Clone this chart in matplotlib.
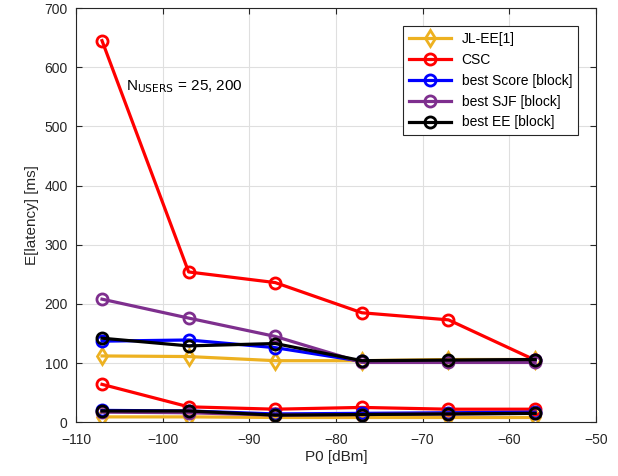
import numpy as np
import matplotlib.pyplot as plt

plt.rcParams['font.family'] = ['Liberation Sans', 'DejaVu Sans']

# transmit power sweep
p0 = [-107, -97, -87, -77, -67, -57]

# mean latency [ms], N_USERS = 200
jl_ee_200 = [112, 111, 104, 104, 106, 106]
csc_200 = [645, 254, 236, 185, 173, 105]
score_200 = [137, 139, 126, 103, 104, 105]
sjf_200 = [208, 176, 145, 101, 101, 101]
ee_200 = [142, 129, 133, 104, 105, 106]

# mean latency [ms], N_USERS = 25
jl_ee_25 = [9, 9, 8, 8, 8, 8]
csc_25 = [64, 26, 22, 25, 22, 22]
score_25 = [20, 19, 14, 15, 16, 17]
sjf_25 = [17, 16, 12, 13, 14, 15]
ee_25 = [19, 19, 12, 13, 14, 15]

names = ['JL-EE[1]', 'CSC', 'best Score [block]', 'best SJF [block]', 'best EE [block]']
colors = ['#EDB120', '#FF0000', '#0000FF', '#7E2F8E', '#000000']
markers = ['d', 'o', 'o', 'o', 'o']
series_200 = [jl_ee_200, csc_200, score_200, sjf_200, ee_200]
series_25 = [jl_ee_25, csc_25, score_25, sjf_25, ee_25]

fig = plt.figure(figsize=(6.18, 4.76), dpi=100)
ax = fig.add_axes([0.123, 0.113, 0.841, 0.870])

for name, c, m, y200, y25 in zip(names, colors, markers, series_200, series_25):
    kw = dict(color=c, marker=m, markersize=8, markerfacecolor='none',
              markeredgewidth=2, linewidth=2.3)
    ax.plot(p0, y200, label=name, **kw)
    ax.plot(p0, y25, **kw)

ax.set_xlim(-110, -50)
ax.set_ylim(0, 700)
ax.set_xticks(np.arange(-110, -49, 10))
ax.set_yticks(np.arange(0, 701, 100))
ax.grid(True, color='#DFDFDF', linewidth=0.8)
ax.set_axisbelow(True)
ax.tick_params(direction='in', labelsize=10, colors='#262626', top=True, right=True, length=4)
ax.tick_params(axis='x', pad=8)
ax.tick_params(axis='y', pad=6)
for s in ax.spines.values():
    s.set_color('#262626')
ax.set_xlabel('P0 [dBm]', fontsize=11, color='#262626', labelpad=2)
ax.set_ylabel('E[latency] [ms]', fontsize=11, color='#262626')

ax.text(-104.2, 568, r'N$_{\mathrm{USERS}}$ = 25, 200', fontsize=11, va='center')

leg = ax.legend(loc='upper right', fontsize=10, fancybox=False, framealpha=1,
                edgecolor='#262626', handlelength=3, borderaxespad=1.3)
leg.get_frame().set_linewidth(0.8)

fig.savefig('out.png', dpi=100)
